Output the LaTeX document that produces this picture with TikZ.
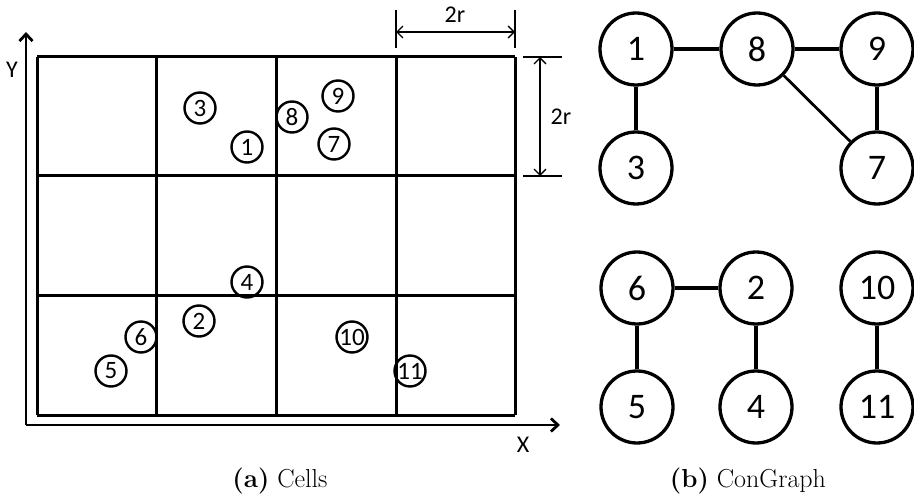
\documentclass[tikz,border=0pt]{standalone}
\usepackage{fontspec}
\newfontfamily\calib{Carlito}
\usetikzlibrary{arrows.meta}
\begin{document}
\begin{tikzpicture}[x=1pt,y=-1pt,
  grid/.style={line width=3pt},
  axis/.style={line width=2.8pt,-{Straight Barb[length=7pt,width=13pt,line width=2.8pt]}},
  dim/.style={line width=1.8pt},
  dimarrow/.style={line width=1.4pt,{Straight Barb[length=6pt,width=12pt]}-{Straight Barb[length=6pt,width=12pt]}},
  lab/.style={font=\calib\fontsize{24}{26}\selectfont,inner sep=0pt},
  small/.style={circle,draw,line width=2.4pt,minimum size=31pt,inner sep=0pt,font=\calib\fontsize{25}{26}\selectfont},
  big/.style={circle,draw,line width=3.3pt,minimum size=72pt,inner sep=0pt,font=\calib\fontsize{36}{38}\selectfont},
  thickedge/.style={line width=4.5pt},
  thinedge/.style={line width=2.8pt},
  captext/.style={font=\fontsize{26}{28}\selectfont,inner sep=0pt}]
\useasboundingbox (0,0) rectangle (914,497);
% grid
\foreach \x in {37,156,276,396,515} \draw[grid] (\x,57) -- (\x,415);
\foreach \y in {57,176,296,415} \draw[grid] (37,\y) -- (515,\y);
% axes
\coordinate (o) at (26,425);
\coordinate (ytip) at (26,32);
\coordinate (xtip) at (560,425);
\draw[axis] (o) -- (ytip);
\draw[axis] (o) -- (xtip);
\node[lab] (ylab) at (12,70) {Y};
\node[lab] (xlab) at (523,445) {X};
% top dimension
\coordinate (t1a) at (396,10); \coordinate (t1b) at (396,48);
\coordinate (t2a) at (515,10); \coordinate (t2b) at (515,48);
\draw[dim] (t1a) -- (t1b);
\draw[dim] (t2a) -- (t2b);
\coordinate (ha) at (396,32); \coordinate (hb) at (515,32);
\draw[dimarrow] (ha) -- (hb);
\node[lab] (toplab) at (455,15) {2r};
% right dimension
\coordinate (r1a) at (523,57); \coordinate (r1b) at (562,57);
\coordinate (r2a) at (523,176); \coordinate (r2b) at (562,176);
\draw[dim] (r1a) -- (r1b);
\draw[dim] (r2a) -- (r2b);
\coordinate (va) at (540,57); \coordinate (vb) at (540,176);
\draw[dimarrow] (va) -- (vb);
\node[lab] (rightlab) at (561,117) {2r};
% small nodes
\node[small] (s3) at (200,108) {3};
\node[small] (s1) at (247,147) {1};
\node[small] (s8) at (292,117) {8};
\node[small] (s9) at (338,96) {9};
\node[small] (s7) at (334,144) {7};
\node[small] (s4) at (247,282) {4};
\node[small] (s2) at (199,321) {2};
\node[small] (s6) at (141,337) {6};
\node[small] (s5) at (111,371) {5};
\node[small] (s10) at (352,337) {10};
\node[small] (s11) at (410,371) {11};
% graph
\node[big] (g1) at (636,49) {1};
\node[big] (g8) at (757,49) {8};
\node[big] (g9) at (877,49) {9};
\node[big] (g3) at (636,168) {3};
\node[big] (g7) at (877,168) {7};
\node[big] (g6) at (637,288) {6};
\node[big] (g2) at (756,288) {2};
\node[big] (g10) at (877,288) {10};
\node[big] (g5) at (637,407) {5};
\node[big] (g4) at (756,407) {4};
\node[big] (g11) at (877,407) {11};
\draw[thickedge] (g1) -- (g8);
\draw[thickedge] (g8) -- (g9);
\draw[thickedge] (g1) -- (g3);
\draw[thickedge] (g9) -- (g7);
\draw[thinedge] (g8) -- (g7);
\draw[thickedge] (g6) -- (g2);
\draw[thickedge] (g6) -- (g5);
\draw[thickedge] (g2) -- (g4);
\draw[thickedge] (g10) -- (g11);
% captions
\node[captext] (capa) at (280,481) {\textbf{(a)} Cells};
\node[captext] (capb) at (748,481) {\textbf{(b)} ConGraph};
\end{tikzpicture}
\end{document}
